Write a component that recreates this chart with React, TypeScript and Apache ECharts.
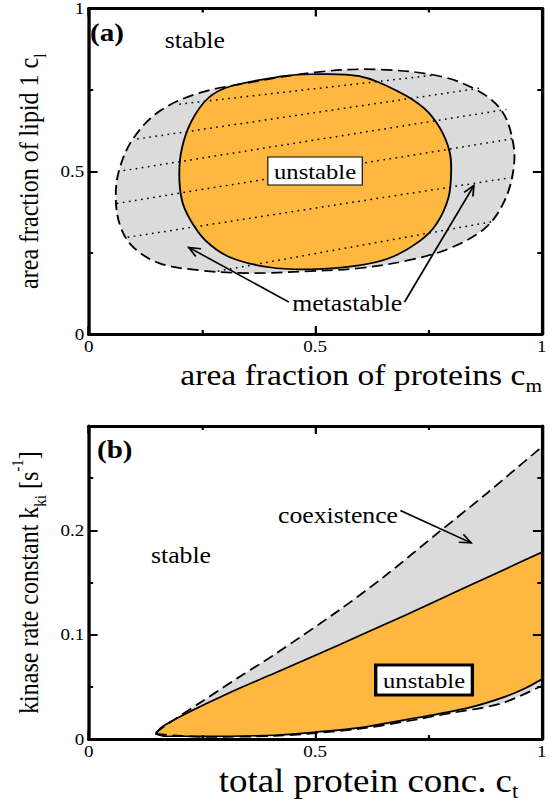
import React, { useEffect, useRef } from 'react';
import * as echarts from 'echarts';

const STRETCH = 1.12;
const PAGE_W = 550;
const PAGE_H = 802;
const CHART_W = PAGE_W / STRETCH;
const FONT = 'Liberation Serif';
const GREY = '#DBDBDB';
const ORANGE = '#FFB83F';

// ---------- Panel (a): area fraction phase diagram ----------
const binodalA: number[][] = [
  [0.243, 0.740], [0.350, 0.771], [0.500, 0.804], [0.633, 0.813], [0.775, 0.792],
  [0.861, 0.746], [0.912, 0.685], [0.936, 0.593], [0.938, 0.511], [0.918, 0.410],
  [0.876, 0.327], [0.796, 0.263], [0.704, 0.226], [0.597, 0.202], [0.489, 0.193],
  [0.350, 0.187], [0.243, 0.196], [0.157, 0.217], [0.099, 0.266], [0.071, 0.327],
  [0.060, 0.410], [0.067, 0.502], [0.099, 0.602], [0.157, 0.685],
];
const spinodalA: number[][] = [
  [0.264, 0.725], [0.313, 0.761], [0.429, 0.792], [0.489, 0.798], [0.597, 0.792],
  [0.682, 0.746], [0.740, 0.694], [0.775, 0.633], [0.796, 0.563], [0.800, 0.502],
  [0.794, 0.419], [0.768, 0.339], [0.732, 0.287], [0.667, 0.235], [0.597, 0.211],
  [0.489, 0.199], [0.399, 0.205], [0.313, 0.235], [0.258, 0.287], [0.225, 0.349],
  [0.206, 0.410], [0.200, 0.492], [0.206, 0.572], [0.227, 0.654],
];
const tieLinesA: number[][][] = [
  [[0.200, 0.706], [0.760, 0.795]],
  [[0.107, 0.599], [0.862, 0.755]],
  [[0.077, 0.502], [0.922, 0.690]],
  [[0.062, 0.401], [0.936, 0.600]],
  [[0.086, 0.297], [0.930, 0.480]],
  [[0.285, 0.193], [0.890, 0.345]],
];
const arrowsA: number[][][] = [
  [[0.442, 0.098], [0.221, 0.266]],
  [[0.697, 0.098], [0.850, 0.456]],
];

// ---------- Panel (b): kinase rate vs total protein ----------
const binodalUpperB: number[][] = [
  [0.148, 0.006], [0.176, 0.015], [0.25, 0.036], [0.334, 0.060], [0.41, 0.081],
  [0.551, 0.123], [0.65, 0.155], [0.772, 0.198], [0.88, 0.236], [1.0, 0.280],
];
const spinodalUpperB: number[][] = [
  [0.148, 0.005], [0.16, 0.011], [0.189, 0.0185], [0.26, 0.034], [0.334, 0.049],
  [0.41, 0.063], [0.551, 0.090], [0.7, 0.119], [0.8, 0.139], [0.9, 0.159], [1.0, 0.179],
];
const spinodalLowerB: number[][] = [
  [0.148, 0.005], [0.17, 0.0028], [0.25, 0.0027], [0.41, 0.0037], [0.503, 0.0068],
  [0.6, 0.011], [0.698, 0.0185], [0.77, 0.024], [0.844, 0.0306], [0.915, 0.040],
  [0.96, 0.048], [1.0, 0.0574],
];
const binodalLowerB: number[][] = [
  [0.148, 0.005], [0.25, 0.0022], [0.41, 0.003], [0.6, 0.010], [0.7, 0.017],
  [0.8, 0.025], [0.909, 0.034], [1.0, 0.051],
];
const arrowsB: number[][][] = [
  [[0.688, 0.219], [0.844, 0.188]],
];

// ---------- helpers ----------
const fmt = (v: number) => String(parseFloat(v.toFixed(2)));

function axis(gridIndex: number, position: string, max: number, interval: number, labels: boolean, extra: any = {}) {
  return {
    type: 'value',
    gridIndex,
    position,
    min: 0,
    max,
    interval,
    z: 10,
    axisLine: { show: true, onZero: false, lineStyle: { color: '#000', width: 3 } },
    axisTick: { show: true, inside: true, length: 8, lineStyle: { color: '#000', width: 2 } },
    minorTick: { show: true, splitNumber: 2, length: 4, lineStyle: { color: '#000', width: 2 } },
    axisLabel: {
      show: labels,
      color: '#000',
      fontFamily: FONT,
      fontSize: 17,
      margin: 4,
      formatter: (v: number) => (v > max - 1e-6 && max < 0.5 ? '' : fmt(v)),
    },
    splitLine: { show: false },
    minorSplitLine: { show: false },
    ...extra,
  };
}

const richTitle = (size: number) => ({
  m: { fontSize: size, fontFamily: FONT, color: '#000', lineHeight: 36 },
  s: { fontSize: Math.round(size * 0.62), fontFamily: FONT, color: '#000', lineHeight: 16, padding: [20, 0, 0, 0] },
  p: { fontSize: Math.round(size * 0.62), fontFamily: FONT, color: '#000', lineHeight: 16, padding: [0, 0, 20, 0] },
});

function polygonSeries(points: number[][], style: any, xi: number, yi: number) {
  return {
    type: 'custom',
    xAxisIndex: xi,
    yAxisIndex: yi,
    coordinateSystem: 'cartesian2d',
    clip: true,
    silent: true,
    data: [[0, 0]],
    renderItem: (_p: any, api: any) => ({
      type: 'polygon',
      shape: { points: points.map((pt) => api.coord(pt)), smooth: 0.35 },
      style,
    }),
  };
}

function linesSeries(lines: number[][][], style: any, xi: number, yi: number) {
  return {
    type: 'custom',
    xAxisIndex: xi,
    yAxisIndex: yi,
    coordinateSystem: 'cartesian2d',
    clip: true,
    silent: true,
    data: [[0, 0]],
    renderItem: (_p: any, api: any) => ({
      type: 'group',
      children: lines.map(([a, b]) => {
        const p0 = api.coord(a);
        const p1 = api.coord(b);
        return { type: 'line', shape: { x1: p0[0], y1: p0[1], x2: p1[0], y2: p1[1] }, style };
      }),
    }),
  };
}

function arrowSeries(arrows: number[][][], xi: number, yi: number) {
  return {
    type: 'custom',
    xAxisIndex: xi,
    yAxisIndex: yi,
    coordinateSystem: 'cartesian2d',
    silent: true,
    z: 6,
    data: [[0, 0]],
    renderItem: (_p: any, api: any) => {
      const children: any[] = [];
      arrows.forEach(([from, to]) => {
        const p0 = api.coord(from);
        const p1 = api.coord(to);
        const ang = Math.atan2(p1[1] - p0[1], p1[0] - p0[0]);
        const L = 11;
        const a = 0.42;
        const st = { stroke: '#000', lineWidth: 1.6, fill: 'none' };
        children.push({ type: 'line', shape: { x1: p0[0], y1: p0[1], x2: p1[0], y2: p1[1] }, style: st });
        children.push({
          type: 'polyline',
          shape: {
            points: [
              [p1[0] - L * Math.cos(ang - a), p1[1] - L * Math.sin(ang - a)],
              [p1[0], p1[1]],
              [p1[0] - L * Math.cos(ang + a), p1[1] - L * Math.sin(ang + a)],
            ],
          },
          style: st,
        });
      });
      return { type: 'group', children };
    },
  };
}

function areaLine(data: number[][], color: string) {
  return {
    type: 'line',
    xAxisIndex: 2,
    yAxisIndex: 2,
    data,
    smooth: 0.3,
    showSymbol: false,
    silent: true,
    lineStyle: { width: 0, opacity: 0 },
    areaStyle: { color, opacity: 1, origin: 'start' },
  };
}

function strokeLine(data: number[][], dashed: boolean) {
  return {
    type: 'line',
    xAxisIndex: 2,
    yAxisIndex: 2,
    data,
    smooth: 0.3,
    showSymbol: false,
    silent: true,
    lineStyle: { color: '#000', width: 1.7, type: dashed ? [10, 5] : 'solid' },
  };
}

const annot = (text: string, x: number, y: number, size = 23, extra: any = {}) => ({
  type: 'text',
  x,
  y,
  z: 100,
  style: {
    text,
    fontFamily: FONT,
    fontSize: size,
    fill: '#000',
    textAlign: 'center',
    textVerticalAlign: 'middle',
    ...extra,
  },
});

export default function App() {
  const ref = useRef<HTMLDivElement>(null);

  useEffect(() => {
    if (!ref.current) return;
    const chart = echarts.init(ref.current, null, { renderer: 'svg' });

    const gA = { left: 82 / STRETCH, top: 7, width: 466 / STRETCH, height: 327 };
    const gB = { left: 86 / STRETCH, top: 426, width: 461 / STRETCH, height: 324 };

    const option: any = {
      animation: false,
      backgroundColor: '#fff',
      textStyle: { fontFamily: FONT },
      grid: [
        { ...gA, show: false },
        { ...gB, show: false },
      ],
      xAxis: [
        axis(0, 'bottom', 1, 0.5, true, {
          name: '{m|area fraction of proteins c}{s|m}',
          nameLocation: 'middle',
          nameGap: 16,
          nameTextStyle: { fontFamily: FONT, padding: [0, 0, 0, 82], rich: richTitle(30) },
        }),
        axis(0, 'top', 1, 0.5, false),
        axis(1, 'bottom', 1, 0.5, true, {
          name: '{m|total protein conc. c}{s|t}',
          nameLocation: 'middle',
          nameGap: 13,
          nameTextStyle: { fontFamily: FONT, padding: [0, 0, 0, 95], rich: richTitle(33) },
        }),
        axis(1, 'top', 1, 0.5, false),
      ],
      yAxis: [
        axis(0, 'left', 1, 0.5, true, {
          name: '{m|area fraction of lipid 1 c}{s|l}',
          nameLocation: 'middle',
          nameGap: 31,
          nameTextStyle: { fontFamily: FONT, rich: richTitle(24) },
        }),
        axis(0, 'right', 1, 0.5, false),
        axis(1, 'left', 0.3, 0.1, true, {
          name: '{m|kinase rate constant k}{s|ki}{m| [s}{p|-1}{m|]}',
          nameLocation: 'middle',
          nameGap: 29,
          nameTextStyle: { fontFamily: FONT, rich: richTitle(24) },
        }),
        axis(1, 'right', 0.3, 0.1, false),
      ],
      series: [
        polygonSeries(binodalA, { fill: GREY, stroke: 'none' }, 0, 0),
        polygonSeries(spinodalA, { fill: ORANGE, stroke: 'none' }, 0, 0),
        linesSeries(tieLinesA, { stroke: '#000', lineWidth: 1.5, lineDash: [1.5, 4] }, 0, 0),
        polygonSeries(spinodalA, { fill: 'none', stroke: '#000', lineWidth: 1.7 }, 0, 0),
        polygonSeries(binodalA, { fill: 'none', stroke: '#000', lineWidth: 1.7, lineDash: [10, 5] }, 0, 0),
        arrowSeries(arrowsA, 0, 0),

        areaLine(binodalUpperB, GREY),
        areaLine(spinodalUpperB, ORANGE),
        areaLine(spinodalLowerB, GREY),
        areaLine(binodalLowerB, '#fff'),
        strokeLine(binodalUpperB, true),
        strokeLine(spinodalUpperB, false),
        strokeLine(spinodalLowerB, false),
        strokeLine(binodalLowerB, true),
        arrowSeries(arrowsB, 2, 2),
      ],
      graphic: [
        annot('(a)', 80.4, 32, 26, { textAlign: 'left', fontWeight: 'bold' }),
        annot('stable', 174, 40),
        annot('unstable', 281.3, 171, 22, {
          backgroundColor: '#fff',
          borderColor: '#000',
          borderWidth: 1,
          padding: [3, 5, 2, 5],
        }),
        annot('metastable', 310, 303),
        annot('(b)', 86.6, 449, 26, { textAlign: 'left', fontWeight: 'bold' }),
        annot('stable', 161.6, 555),
        annot('coexistence', 301.8, 515),
        annot('unstable', 378.6, 680, 22, {
          backgroundColor: '#fff',
          borderColor: '#000',
          borderWidth: 3,
          padding: [3, 5, 2, 5],
        }),
      ],
    };

    chart.setOption(option);
    return () => chart.dispose();
  }, []);

  return (
    <div
      style={{
        position: 'absolute',
        left: 0,
        top: 0,
        width: PAGE_W,
        height: PAGE_H,
        overflow: 'hidden',
        background: '#fff',
      }}
    >
      <div
        ref={ref}
        style={{
          width: CHART_W,
          height: PAGE_H,
          transform: `scaleX(${STRETCH})`,
          transformOrigin: '0 0',
        }}
      />
    </div>
  );
}
